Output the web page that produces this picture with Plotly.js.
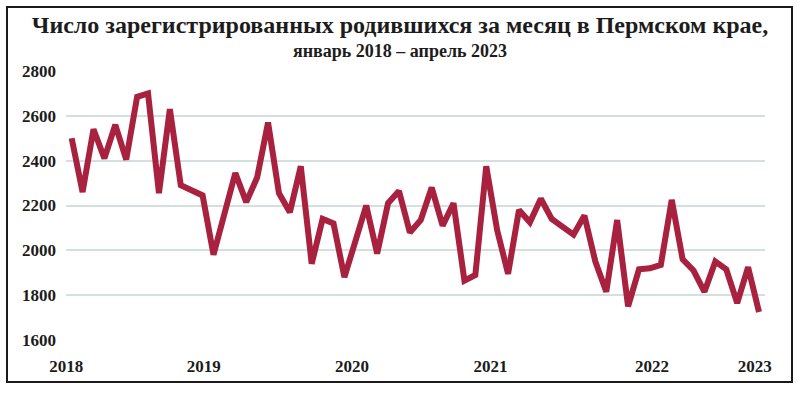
<!DOCTYPE html>
<html>
<head>
<meta charset="utf-8">
<script src="https://cdn.plot.ly/plotly-3.0.1.min.js"></script>
<style>
  html, body { margin: 0; padding: 0; background: #fff; }
  #chart { width: 800px; height: 394px; }
</style>
</head>
<body>
<div id="chart"></div>
<script>
// Months: January 2018 – April 2023
const months = [
  '2018-01','2018-02','2018-03','2018-04','2018-05','2018-06','2018-07','2018-08','2018-09','2018-10','2018-11','2018-12',
  '2019-01','2019-02','2019-03','2019-04','2019-05','2019-06','2019-07','2019-08','2019-09','2019-10','2019-11','2019-12',
  '2020-01','2020-02','2020-03','2020-04','2020-05','2020-06','2020-07','2020-08','2020-09','2020-10','2020-11','2020-12',
  '2021-01','2021-02','2021-03','2021-04','2021-05','2021-06','2021-07','2021-08','2021-09','2021-10','2021-11','2021-12',
  '2022-01','2022-02','2022-03','2022-04','2022-05','2022-06','2022-07','2022-08','2022-09','2022-10','2022-11','2022-12',
  '2023-01','2023-02','2023-03','2023-04'
];

// Registered births per month
const births = [
  2500, 2260, 2540, 2410, 2560, 2405, 2685, 2700, 2255, 2630, 2290, 2270,
  2245, 1980, 2165, 2345, 2215, 2325, 2570, 2255, 2170, 2375, 1940, 2140,
  2120, 1880, 2040, 2200, 1985, 2210, 2265, 2080, 2135, 2280, 2110, 2210,
  1865, 1890, 2375, 2090, 1895, 2180, 2125, 2230, 2140, 2105, 2070, 2155,
  1950, 1815, 2135, 1750, 1915, 1920, 1935, 2225, 1960, 1910, 1815, 1950,
  1915, 1765, 1925, 1725
];

// Year tick labels and where they sit along the month axis (as in the original)
const yearLabels = ['2018', '2019', '2020', '2021', '2022', '2023'];
const yearTickPos = [-0.5, 12.1, 25.7, 38.4, 53.2, 62.6];

const yTicks = [1600, 1800, 2000, 2200, 2400, 2600, 2800];

const titleText = 'Число зарегистрированных родившихся за месяц в Пермском крае,';
const subtitleText = 'январь 2018 – апрель 2023';

const monthIndex = months.map((m, i) => i);

const fontFamily = '"Liberation Serif", "DejaVu Serif", serif';
const textColor = '#1c1c1c';

const trace = {
  x: monthIndex,
  y: births,
  text: months,
  type: 'scatter',
  mode: 'lines',
  line: { color: '#a8213f', width: 6, shape: 'linear' },
  hovertemplate: '%{text}: %{y}<extra></extra>',
  cliponaxis: false
};

const layout = {
  width: 800,
  height: 394,
  margin: { l: 66, r: 35, t: 71, b: 54 },
  paper_bgcolor: '#ffffff',
  plot_bgcolor: '#ffffff',
  showlegend: false,
  font: { family: fontFamily, color: textColor },
  title: {
    text: titleText,
    x: 0.5,
    xanchor: 'center',
    xref: 'container',
    yref: 'container',
    y: 1 - 25 / 394,
    yanchor: 'middle',
    font: { family: fontFamily, size: 24, color: textColor, weight: 'bold' }
  },
  annotations: [{
    text: subtitleText,
    xref: 'paper',
    yref: 'paper',
    x: (400 - 66) / 699,
    y: (340 - 51) / 269,
    xanchor: 'center',
    yanchor: 'middle',
    showarrow: false,
    font: { family: fontFamily, size: 18, color: textColor, weight: 'bold' }
  }],
  xaxis: {
    range: [-0.52, 63.55],
    tickmode: 'array',
    tickvals: yearTickPos,
    ticktext: yearLabels,
    showgrid: false,
    zeroline: false,
    showline: false,
    ticks: '',
    ticklabelstandoff: 14,
    tickfont: { family: fontFamily, size: 17, color: textColor, weight: 'bold' }
  },
  yaxis: {
    range: [1600, 2800],
    tickmode: 'array',
    tickvals: yTicks,
    ticktext: yTicks.map(String),
    showgrid: true,
    gridcolor: '#d4dfdf',
    gridwidth: 2,
    zeroline: false,
    showline: false,
    ticks: '',
    ticklabelstandoff: 9,
    tickfont: { family: fontFamily, size: 17, color: textColor, weight: 'bold' }
  },
  shapes: [{
    type: 'rect',
    xref: 'paper',
    yref: 'paper',
    x0: (7 - 66) / 699,
    x1: (792 - 66) / 699,
    y0: (340 - 382) / 269,
    y1: (340 - 7) / 269,
    line: { color: '#1a1a1a', width: 2 },
    fillcolor: 'rgba(0,0,0,0)',
    layer: 'below'
  }]
};

Plotly.newPlot('chart', [trace], layout, { displayModeBar: false, staticPlot: true });
</script>
</body>
</html>
